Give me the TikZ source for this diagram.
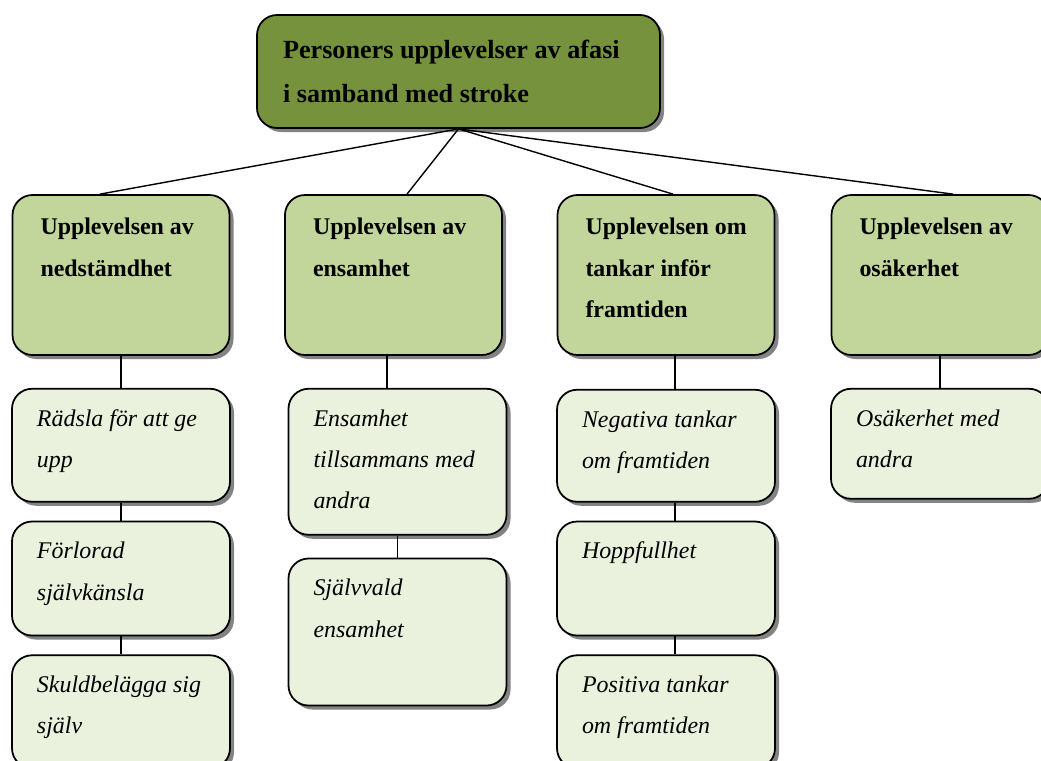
\documentclass[tikz,border=0pt]{standalone}
\usepackage{fontspec}
\setmainfont{Liberation Serif}
\usetikzlibrary{positioning}
\usetikzlibrary{shadows}
\definecolor{olivedark}{HTML}{76923C}
\definecolor{olivemid}{HTML}{C2D69B}
\definecolor{olivepale}{HTML}{EAF1DD}
\tikzset{
    branch/.style = {line width=0.8pt},
    card/.style = {draw,line width=1pt,rounded corners=0.4cm,inner sep=0pt,
        drop shadow={shadow xshift=0.08cm,shadow yshift=-0.08cm,fill=black!75,opacity=0.65},
        execute at end node={\end{minipage}}},
    topic/.style = {card,fill=olivedark,
        execute at begin node={\begin{minipage}[c][2.26cm][t]{8.06cm}\vspace*{0.26cm}%
            \fontsize{14.9}{24.9}\selectfont\bfseries\setlength{\leftskip}{0.52cm}\strut}},
    theme/.style = {card,fill=olivemid,
        execute at begin node={\begin{minipage}[c][3.2cm][t]{4.34cm}\vspace*{0.22cm}%
            \fontsize{13.6}{23.5}\selectfont\bfseries\setlength{\leftskip}{0.56cm}\strut}},
    subtheme/.style = {card,fill=olivepale,
        execute at begin node={\begin{minipage}[c][#1][t]{4.36cm}\vspace*{0.17cm}%
            \fontsize{13.6}{23.5}\selectfont\itshape\setlength{\leftskip}{0.5cm}\strut}},
    subtheme/.default = 2.26cm
}
\begin{document}
\begin{tikzpicture}
        \useasboundingbox (0,0) rectangle (20.82,-15.2);
        % Top
        \node[topic] (top) at (9.17,-1.43) {Personers upplevelser av afasi\\i samband med stroke};
        % Themes
        \node[theme] (t1) at (2.42,-5.5) {Upplevelsen av\\nedstämdhet};
        \node[theme] (t2) at (7.87,-5.5) {Upplevelsen av\\ensamhet};
        \node[theme] (t3) at (13.32,-5.5) {Upplevelsen om\\tankar inför\\framtiden};
        \node[theme] (t4) at (18.8,-5.5) {Upplevelsen av\\osäkerhet};
        % Subthemes
        \node[subtheme] (r1) [below=0.64cm of t1] {Rädsla för att ge\\upp};
        \node[subtheme=2.28cm] (f1) [below=0.36cm of r1] {Förlorad\\självkänsla};
        \node[subtheme] (s1) [below=0.36cm of f1] {Skuldbelägga sig\\själv};
        \node[subtheme=2.92cm] (e1) [below=0.64cm of t2,xshift=0.08cm] {Ensamhet\\tillsammans med\\andra};
        \node[subtheme=2.94cm] (e2) [below=0.44cm of e1] {Självvald\\ensamhet};
        \node[subtheme=2.24cm] (n1) [below=0.66cm of t3] {Negativa tankar\\om framtiden};
        \node[subtheme=2.28cm] (h1) [below=0.36cm of n1] {Hoppfullhet};
        \node[subtheme] (p1) [below=0.36cm of h1] {Positiva tankar\\om framtiden};
        \node[subtheme=2.2cm] (o1) [below=0.64cm of t4] {Osäkerhet med\\andra};
        % Links
        \foreach \dest/\dx in {t1/-0.42,t2/0.27,t3/0.14,t4/0.26}
            \draw[branch] (top.south) -- ([xshift=\dx cm]\dest.north);
        \foreach \src/\dest/\dx in {t1/r1/0,r1/f1/0,f1/s1/0,t2/e1/-0.13,e1/e2/0,t3/n1/0.18,n1/h1/0.18,h1/p1/0.18,t4/o1/0}
            \draw[branch] ([xshift=\dx cm]\src.south) -- ([xshift=\dx cm]\src.south |- \dest.north);
    \end{tikzpicture}
\end{document}
